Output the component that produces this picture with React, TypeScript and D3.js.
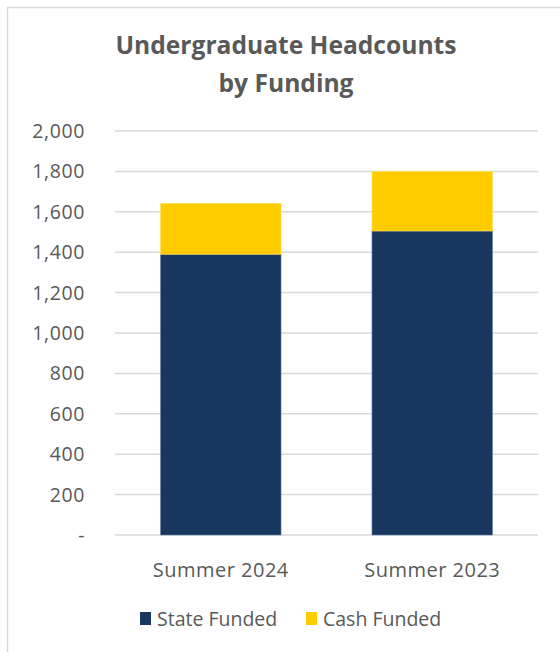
import React from "react";
import * as d3 from "d3";

const categories = ["Summer 2024", "Summer 2023"];
const stateFunded = [1390, 1505];
const cashFunded = [252, 295];
const seriesNames = ["State Funded", "Cash Funded"];
const seriesColors = ["#17375E", "#FFCC00"];
const yTicks = [0, 200, 400, 600, 800, 1000, 1200, 1400, 1600, 1800, 2000];

const W = 560;
const H = 652;
const FONT = "'Open Sans', sans-serif";
const TEXT = "#595959";

export default function App() {
  const x = d3.scaleBand<string>().domain(categories).range([115, 538]).paddingInner(0.43).paddingOuter(0.215);
  const y = d3.scaleLinear().domain([0, 2000]).range([535, 131]);
  const fmt = (v: number) => (v === 0 ? "-" : d3.format(",")(v));
  const rows = categories.map((c, i) => ({ c, s: stateFunded[i], k: cashFunded[i] }));
  const stack = d3.stack<any>().keys(["s", "k"])(rows as any);

  return (
    <svg width={W} height={H} style={{ position: "absolute", left: 0, top: 0, background: "#fff" }}>
      <rect x={7.5} y={7.5} width={W} height={H} fill="#fff" stroke="#d9d9d9" strokeWidth={1.5} />
      <text x={286} y={54} textAnchor="middle" fontFamily={FONT} fontWeight={700} fontSize={24.6} fill={TEXT}>
        Undergraduate Headcounts
      </text>
      <text x={286} y={92} textAnchor="middle" fontFamily={FONT} fontWeight={700} fontSize={24.6} fill={TEXT}>
        by Funding
      </text>
      {yTicks.map((t) => (
        <g key={t}>
          <line x1={115} x2={538} y1={y(t)} y2={y(t)} stroke="#d9d9d9" strokeWidth={1.5} />
          <text x={85} y={y(t)} dy="0.36em" textAnchor="end" fontFamily={FONT} fontSize={19.5} letterSpacing={0.6} fill={TEXT}>
            {fmt(t)}
          </text>
        </g>
      ))}
      {stack.map((layer, li) =>
        layer.map((d: any, i: number) => (
          <rect
            key={li + "-" + i}
            x={x(categories[i])}
            width={x.bandwidth()}
            y={y(d[1])}
            height={y(d[0]) - y(d[1])}
            fill={seriesColors[li]}
            stroke={li === 0 ? "#6d84a3" : "#ffe066"}
            strokeWidth={0.6}
          />
        ))
      )}
      {categories.map((c) => (
        <text key={c} x={(x(c) as number) + x.bandwidth() / 2} y={577} textAnchor="middle" fontFamily={FONT} fontSize={20} letterSpacing={0.5} fill={TEXT}>
          {c}
        </text>
      ))}
      {seriesNames.map((n, i) => {
        const lx = [140, 306][i];
        return (
          <g key={n}>
            <rect x={lx} y={612} width={11} height={13} fill={seriesColors[i]} />
            <text x={lx + 17} y={626} fontFamily={FONT} fontSize={19.5} fill={TEXT}>
              {n}
            </text>
          </g>
        );
      })}
    </svg>
  );
}
